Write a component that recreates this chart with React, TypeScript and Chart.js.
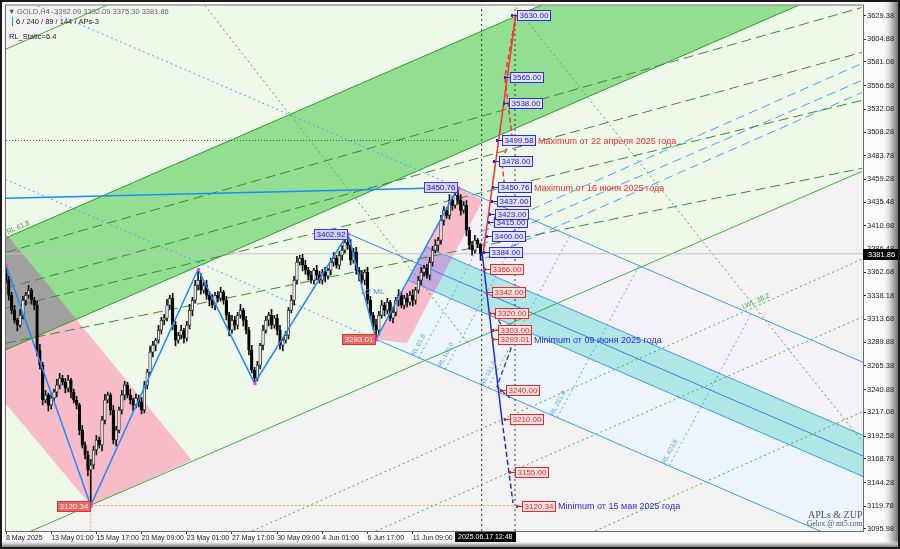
import React, { useEffect, useRef } from 'react';
import { Chart, registerables } from 'chart.js';

Chart.register(...registerables);

const FONT = '"Liberation Sans", Arial, sans-serif';

// ---------------- axes ----------------
const yTickValues = [3629.38, 3604.88, 3581.08, 3556.58, 3532.08, 3508.28, 3483.78, 3459.28, 3435.48, 3410.98, 3386.48, 3362.68, 3338.18, 3313.68, 3289.88, 3265.38, 3240.88, 3217.08, 3192.58, 3168.78, 3144.28, 3119.78, 3095.98];
const xTickBars = [0, 16, 32, 48, 64, 80, 96, 112, 128, 144];
const xTickLabels = ['8 May 2025', '13 May 01:00', '15 May 17:00', '20 May 09:00', '23 May 01:00', '27 May 17:00', '30 May 09:00', '4 Jun 01:00', '6 Jun 17:00', '11 Jun 09:00'];
const barRange = [0, 303.4];
const priceRange = [3093.9, 3639.76];

// ---------------- candles (GOLD, H4) ----------------
const firstOpen = 3362.0;
const closes = [
  3354.4, 3338.8, 3323.3, 3312.9, 3307.7, 3318.1, 3333.6, 3338.8, 3344.0, 3333.6,
  3328.5, 3281.8, 3266.2, 3229.9, 3235.1, 3224.7, 3232.0, 3238.2, 3245.4, 3252.7,
  3248.6, 3242.3, 3250.6, 3238.2, 3229.9, 3224.7, 3198.7, 3183.2, 3172.8, 3157.2,
  3162.4, 3178.0, 3188.4, 3183.2, 3209.1, 3229.9, 3235.1, 3219.5, 3188.4, 3198.7,
  3219.5, 3235.1, 3245.4, 3235.1, 3229.9, 3224.7, 3232.0, 3227.8, 3219.5, 3245.4,
  3258.9, 3279.7, 3286.9, 3292.1, 3302.5, 3312.9, 3315.0, 3328.5, 3335.7, 3307.7,
  3292.1, 3297.3, 3302.5, 3294.2, 3307.7, 3323.3, 3333.6, 3349.2, 3354.4, 3344.0,
  3349.2, 3338.8, 3333.6, 3328.5, 3338.8, 3335.7, 3341.9, 3333.6, 3318.1, 3302.5,
  3312.9, 3307.7, 3318.1, 3323.3, 3312.9, 3302.5, 3281.8, 3261.0, 3252.7, 3266.2,
  3286.9, 3302.5, 3312.9, 3318.1, 3307.7, 3315.0, 3302.5, 3286.9, 3292.1, 3297.3,
  3323.3, 3333.6, 3354.4, 3373.1, 3377.2, 3370.0, 3364.8, 3359.6, 3354.4, 3364.8,
  3359.6, 3354.4, 3362.7, 3358.6, 3364.8, 3373.1, 3377.2, 3370.0, 3380.3, 3385.5,
  3393.8, 3390.7, 3375.2, 3383.5, 3364.8, 3359.6, 3354.4, 3362.7, 3333.6, 3318.1,
  3307.7, 3302.5, 3318.1, 3328.5, 3323.3, 3331.6, 3315.0, 3321.2, 3333.6, 3338.8,
  3328.5, 3335.7, 3331.6, 3338.8, 3333.6, 3344.0, 3354.4, 3362.7, 3366.9, 3359.6,
  3373.1, 3385.5, 3390.7, 3395.9, 3416.7, 3427.0, 3421.8, 3437.4, 3432.2, 3442.6,
  3437.4, 3427.0, 3432.2, 3406.3, 3390.7, 3385.5, 3395.9, 3392.09, 3381.86,
];
const upperWicks = [
  8, 4, 3, 5, 2, 6, 4, 3, 5, 2,
  3, 4, 6, 3, 5, 2, 4, 3, 6, 5,
  3, 4, 5, 2, 3, 4, 2, 5, 3, 4,
  6, 4, 5, 3, 4, 6, 3, 2, 5, 4,
  3, 5, 4, 3, 6, 2, 4, 3, 5, 4,
  3, 6, 4, 2, 5, 3, 4, 6, 3, 5,
  4, 3, 5, 2, 4, 6, 3, 5, 11.4, 7,
  3, 5, 4, 6, 3, 4, 5, 2, 4, 3,
  5, 4, 3, 6, 2, 4, 3, 5, 3, 4,
  2, 5, 4, 3, 6, 3, 4, 5, 2, 4,
  3, 5, 4, 6, 3, 4, 5, 3, 4, 2,
  5, 4, 3, 5, 2, 4, 6, 3, 4, 5,
  5, 9.1, 6, 4, 5, 3, 4, 2, 5, 4,
  3, 6, 4, 5, 3, 4, 2, 5, 3, 6,
  4, 3, 5, 4, 6, 3, 4, 5, 3, 4,
  5, 4, 6, 3, 5, 4, 3, 6, 4, 5,
  8.2, 6, 4, 5, 3, 4, 5, 2, 0,
];
const lowerWicks = [
  3, 5, 4, 3, 6, 2, 4, 5, 3, 4,
  5, 6, 4, 5, 3, 6, 4, 3, 5, 4,
  3, 5, 4, 6, 3, 4, 5, 3, 4, 6,
  36.9, 4, 5, 3, 6, 4, 3, 5, 4, 6,
  3, 4, 5, 3, 4, 6, 3, 5, 4, 3,
  4, 3, 5, 6, 3, 4, 5, 3, 4, 5,
  6, 3, 4, 5, 3, 4, 6, 3, 5, 4,
  3, 4, 6, 3, 5, 4, 3, 4, 5, 6,
  3, 5, 4, 3, 6, 4, 5, 3, 5.2, 3,
  4, 5, 3, 6, 4, 3, 5, 4, 6, 3,
  4, 3, 5, 4, 3, 6, 4, 5, 3, 4,
  5, 3, 4, 6, 3, 5, 4, 3, 4, 5,
  3, 4, 5, 3, 4, 6, 3, 5, 4, 3,
  4, 9.5, 5, 3, 6, 4, 3, 5, 4, 6,
  3, 4, 5, 3, 6, 4, 3, 5, 4, 3,
  5, 4, 3, 6, 4, 5, 3, 4, 5, 3,
  4, 5, 3, 6, 4, 5, 3, 4, 6.56,
];

// ---------------- ZUP zigzag & pitchfork anchors ----------------
const zigzagBars = [0, 30, 68, 88, 121, 131, 160];
const zigzagPrices = [3370.0, 3120.34, 3365.8, 3247.5, 3402.92, 3293.01, 3450.76];
const pitchforkBars = [121, 131, 160];
const pitchforkPrices = [3402.92, 3293.01, 3450.76];
const cyanFraction = 0.22;
const reactionLevels = [0.618, 1.0, 1.618, 2.618, 4.236];
const reactionNames = ['RL 61.8', 'RL 100.0', 'RL 161.8', 'RL 261.8', 'RL 423.6'];

// ---------------- channel lines [bar1, price1, bar2, price2] ----------------
const outerTopLine = [0, 3594.5, 303, 3980.9];
const bandTopLine = [0, 3398.4, 303, 3784.8];
const bandBottomLine = [0, 3282.2, 303, 3668.6];
const outerBottomLine = [0, 3082.6, 303, 3467.4];
const darkDashedLines = [
  [0, 3383.4, 303, 3637.7],
  [0, 3346.1, 303, 3591.0],
  [0, 3325.3, 303, 3541.2],
  [0, 3289.0, 303, 3470.6],
];
const blueDashedLines = [
  [167.8, 3404.2, 303, 3579.6],
  [167.8, 3390.7, 303, 3561.9],
  [169.6, 3377.2, 303, 3549.4],
];
const greenDottedLines = [
  [87.1, 3093.9, 303, 3376.2],
  [131, 3093.9, 303, 3316.0],
  [208.5, 3093.9, 303, 3217.4],
];
const steepDottedLines = [
  [179.5, 3641.8, 303, 3187.3],
  [70.4, 3639.8, 164.2, 3286.9],
];
const trendLine = [0, 3439.5, 160, 3450.76];
const pinkLeftBars = [0, 65.8, 30, 0];
const pinkLeftPrices = [3402.9, 3167.6, 3120.34, 3225.7];
const pinkRightBars = [131, 160, 168.8, 141.9];
const pinkRightPrices = [3293.01, 3450.76, 3437.4, 3289.0];

const lastPrice = 3381.86;
const headerOHLC = [3392.09, 3392.09, 3375.30, 3381.86];
const maxLevel = 3499.58;
const maxLevelBars = [0, 160];
const minLevel = 3120.34;
const minLevelBars = [30, 182];
const separatorBars = [168.4, 180.2];
const timeLabelBar = 158.9;
const timeLabel = '2025.06.17 12:48';

// ---------------- projections ----------------
const upLevels = [3384.0, 3400.0, 3415.0, 3423.0, 3437.0, 3450.76, 3478.0, 3499.58, 3538.0, 3565.0, 3630.0];
const upLabelBars = [171.0, 172.0, 172.7, 173.1, 173.8, 174.2, 174.5, 175.6, 178.1, 178.4, 180.9];
const downLevels = [3366.0, 3342.0, 3320.0, 3303.0, 3293.01, 3240.0, 3210.0, 3155.0, 3120.34];
const downLabelBars = [171.3, 172.0, 173.1, 174.2, 174.2, 177.0, 178.4, 180.2, 182.7];
const redSolidPath = [[169, 3384], [180.5, 3630]];
const redDashedPath = [[180.5, 3630], [176.6, 3565], [179.1, 3505], [175.5, 3478], [177.0, 3440]];
const blueSolidPath = [[168.5, 3384], [175.6, 3209]];
const blueDashedPath = [[175.6, 3209], [179.5, 3123]];
const blueDashedPath2 = [[172.8, 3320], [179.5, 3289], [173.8, 3244], [178.4, 3232]];
const upNotes = [
  { level: 3499.58, text: 'Maximum от 22 апреля 2025 года' },
  { level: 3450.76, text: 'Maximum от 16 июня 2025 года' },
];
const downNotes = [
  { level: 3293.01, text: 'Minimum от 09 июня 2025 года' },
  { level: 3120.34, text: 'Minimum от 15 мая 2025 года' },
];

// ---------------- derived geometry ----------------
const opens = closes.map((c, i) => (i === 0 ? firstOpen : closes[i - 1]));
const highs = closes.map((c, i) => Math.max(opens[i], c) + upperWicks[i]);
const lows = closes.map((c, i) => Math.min(opens[i], c) - lowerWicks[i]);

const ext = (l: number[], i: number) => l[1] + ((l[3] - l[1]) / (l[2] - l[0])) * (i - l[0]);
const bandPoly = (a: number[], b: number[]) => [[-10, ext(a, -10)], [320, ext(a, 320)], [320, ext(b, 320)], [-10, ext(b, -10)]];

const [Ai, Bi, Ci] = pitchforkBars;
const [Ap, Bp, Cp] = pitchforkPrices;
const Mi = (Bi + Ci) / 2;
const Mp = (Bp + Cp) / 2;
const pfSlope = (Mp - Ap) / (Mi - Ai);
const bcSlope = (Cp - Bp) / (Ci - Bi);
const pfAt = (i0: number, p0: number, i: number) => p0 + pfSlope * (i - i0);
const cross = (i0: number, p0: number, s0: number, i1: number, p1: number, s1: number) => {
  const i = (p1 - p0 + s0 * i0 - s1 * i1) / (s0 - s1);
  return [i, p0 + s0 * (i - i0)];
};
const halfWidth = cyanFraction * (Cp - pfAt(Ai, Ap, Ci));
const cyanTopStart = cross(Ai, Ap + halfWidth, pfSlope, Bi, Bp, bcSlope);
const cyanBotStart = cross(Ai, Ap - halfWidth, pfSlope, Bi, Bp, bcSlope);
const RIGHT = 320;
const cyanZone = [cyanTopStart, [RIGHT, pfAt(Ai, Ap + halfWidth, RIGHT)], [RIGHT, pfAt(Ai, Ap - halfWidth, RIGHT)], cyanBotStart];
const forkUpperZone = [[Ci, Cp], [RIGHT, pfAt(Ci, Cp, RIGHT)], [RIGHT, pfAt(Ai, Ap, RIGHT)], [Mi, Mp]];
const forkLowerZone = [[Mi, Mp], [RIGHT, pfAt(Ai, Ap, RIGHT)], [RIGHT, pfAt(Bi, Bp, RIGHT)], [Bi, Bp]];
const reactionLines = reactionLevels.map((k) => {
  const Pi = Mi + k * (Mi - Ai);
  const Pp = Mp + k * (Mp - Ap);
  const lo = cross(Pi, Pp, bcSlope, Bi, Bp, pfSlope);
  const hi = cross(Pi, Pp, bcSlope, Ci, Cp, pfSlope);
  return [lo, hi];
});
const pinkLeft = pinkLeftBars.map((b, k) => [b, pinkLeftPrices[k]]);
const pinkRight = pinkRightBars.map((b, k) => [b, pinkRightPrices[k]]);

const lineDS = (pts: number[][], color: string, width: number, dash: number[], order: number) => ({
  type: 'line',
  data: pts.map(([x, y]) => ({ x, y })),
  borderColor: color,
  borderWidth: width,
  borderDash: dash,
  pointRadius: 0,
  pointHoverRadius: 0,
  pointHitRadius: 0,
  fill: false,
  tension: 0,
  order,
});
const seg = (l: number[]) => [[l[0], l[1]], [l[2], l[3]]];

function buildDatasets(): any[] {
  const ds: any[] = [];
  ds.push(lineDS(seg(outerTopLine), '#43ad43', 1, [], 45));
  ds.push(lineDS(seg(outerBottomLine), '#43ad43', 1, [], 45));
  ds.push(lineDS(seg(bandTopLine), '#2f9a2f', 1, [], 45));
  ds.push(lineDS(seg(bandBottomLine), '#2f9a2f', 1, [], 45));
  darkDashedLines.forEach((l) => ds.push(lineDS(seg(l), '#3c8a3c', 1, [10, 5], 44)));
  greenDottedLines.forEach((l) => ds.push(lineDS(seg(l), '#4fae4f', 1, [2, 3], 44)));
  steepDottedLines.forEach((l) => ds.push(lineDS(seg(l), '#4fae4f', 1, [2, 3], 44)));
  blueDashedLines.forEach((l) => ds.push(lineDS(seg(l), '#4aa3f5', 1, [9, 5], 44)));
  ds.push(lineDS([[-10, pfAt(Ci, Cp, -10)], [Ci, Cp]], '#4aa3f5', 1, [2, 3], 43));
  ds.push(lineDS([[-10, pfAt(Bi, Bp, -10)], [Bi, Bp]], '#4aa3f5', 1, [2, 3], 43));
  ds.push(lineDS([[Ci, Cp], [RIGHT, pfAt(Ci, Cp, RIGHT)]], '#3d9bf0', 1, [], 42));
  ds.push(lineDS([[Bi, Bp], [RIGHT, pfAt(Bi, Bp, RIGHT)]], '#3d9bf0', 1, [], 42));
  ds.push(lineDS([[Ai, Ap], [RIGHT, pfAt(Ai, Ap, RIGHT)]], '#3d7fe0', 1, [], 42));
  ds.push(lineDS([cyanTopStart, cyanZone[1]], '#3d9bf0', 1, [], 42));
  ds.push(lineDS([cyanBotStart, cyanZone[2]], '#3d9bf0', 1, [], 42));
  reactionLines.forEach((r) => ds.push(lineDS(r, '#5aa8f0', 1, [2, 3], 43)));
  ds.push(lineDS([[barRange[0], lastPrice], [barRange[1], lastPrice]], '#c4c4c4', 1, [], 41));
  ds.push(lineDS([[maxLevelBars[0], maxLevel], [maxLevelBars[1], maxLevel]], '#555555', 1, [1, 2], 41));
  ds.push(lineDS([[minLevelBars[0], minLevel], [minLevelBars[1], minLevel]], '#f2a33a', 1, [2, 2], 41));
  ds.push(lineDS([[minLevelBars[0], minLevel], [minLevelBars[0], priceRange[0]]], '#f2a33a', 1, [2, 2], 41));
  separatorBars.forEach((b) => ds.push(lineDS([[b, priceRange[0]], [b, priceRange[1]]], '#3a3a3a', 1, [2, 3], 41)));
  ds.push({
    type: 'bar',
    data: closes.map((c, i) => ({ x: i, y: [lows[i], highs[i]] })),
    backgroundColor: '#111111',
    barThickness: 1,
    grouped: false,
    order: 21,
  });
  ds.push({
    type: 'bar',
    data: closes.map((c, i) => ({ x: i, y: [opens[i], c] })),
    backgroundColor: closes.map((c, i) => (c >= opens[i] ? '#eeeeee' : '#000000')),
    borderColor: closes.map((c, i) => (c >= opens[i] ? '#1e1e1e' : '#000000')),
    borderWidth: 0.8,
    borderSkipped: false,
    barThickness: 2.7,
    grouped: false,
    order: 20,
  });
  ds.push(lineDS(seg(trendLine), '#1e88ff', 1.5, [], 11));
  ds.push(lineDS(zigzagBars.map((b, k) => [b, zigzagPrices[k]]), '#1e88ff', 1.5, [], 10));
  ds.push(lineDS(redSolidPath, '#ff2d2d', 1.5, [], 9));
  ds.push(lineDS(redDashedPath, '#ff2d2d', 1.5, [5, 3], 9));
  ds.push(lineDS(blueSolidPath, '#2626e0', 1.5, [], 9));
  ds.push(lineDS(blueDashedPath, '#2626e0', 1.5, [5, 3], 9));
  ds.push(lineDS(blueDashedPath2, '#2626e0', 1.2, [5, 3], 9));
  return ds;
}

// ---------------- plugins ----------------
const framePlugin = {
  id: 'frame',
  beforeDraw(chart: any) {
    const { ctx, width, height } = chart;
    ctx.save();
    ctx.fillStyle = '#fbfbfb';
    ctx.fillRect(0, 0, width, height);
    const gr = ctx.createLinearGradient(882, 0, 899, 0);
    gr.addColorStop(0, 'rgba(251,251,251,0)');
    gr.addColorStop(0.6, '#b8b8b8');
    gr.addColorStop(1, '#6a6a6a');
    ctx.fillStyle = gr;
    ctx.fillRect(882, 0, 18, height);
    const gb = ctx.createLinearGradient(0, 540, 0, 548);
    gb.addColorStop(0, 'rgba(251,251,251,0)');
    gb.addColorStop(0.6, '#b0b0b0');
    gb.addColorStop(1, '#666666');
    ctx.fillStyle = gb;
    ctx.fillRect(0, 540, width, 9);
    ctx.restore();
  },
  afterDraw(chart: any) {
    const { ctx, chartArea: a, scales, width, height } = chart;
    const X = (v: number) => scales.x.getPixelForValue(v);
    const Y = (v: number) => scales.y.getPixelForValue(v);
    ctx.save();
    ctx.strokeStyle = '#6d6d6d';
    ctx.lineWidth = 1;
    ctx.strokeRect(a.left - 0.5, a.top - 0.5, a.right - a.left + 1, a.bottom - a.top + 1);
    ctx.strokeStyle = '#1a1a1a';
    ctx.lineWidth = 2;
    ctx.strokeRect(1, 1, width - 2, height - 2);
    const yp = Math.round(Y(lastPrice));
    ctx.fillStyle = '#000';
    ctx.fillRect(a.right, yp - 5, 35, 11);
    ctx.fillStyle = '#fff';
    ctx.font = `7.5px ${FONT}`;
    ctx.textBaseline = 'middle';
    ctx.textAlign = 'left';
    ctx.fillText(lastPrice.toFixed(2), a.right + 5, yp + 0.5);
    const xt = Math.round(X(timeLabelBar));
    ctx.font = `7px ${FONT}`;
    const tw = Math.ceil(ctx.measureText(timeLabel).width) + 6;
    ctx.fillStyle = '#000';
    ctx.fillRect(xt, a.bottom + 1, tw, 10);
    ctx.fillStyle = '#fff';
    ctx.fillText(timeLabel, xt + 3, a.bottom + 6.5);
    ctx.font = `7.5px ${FONT}`;
    ctx.fillStyle = '#555';
    ctx.fillText('▼', 8, 12);
    ctx.fillStyle = '#666';
    ctx.fillText('GOLD,H4  ' + headerOHLC.map((v) => v.toFixed(2)).join(' '), 17, 12);
    ctx.fillStyle = '#1e88ff';
    ctx.fillRect(12, 17, 1, 9);
    ctx.fillStyle = '#222';
    ctx.fillText('6 / 240 / 89 / 144 / APs-3', 16, 22);
    ctx.fillText('RL_Static=6.4', 9, 37);
    ctx.fillStyle = '#555';
    ctx.font = '10px "Liberation Serif", "DejaVu Serif", serif';
    ctx.fillText('APLs & ZUP', 808, 515);
    ctx.font = '7.5px "Liberation Serif", "DejaVu Serif", serif';
    ctx.fillText('Gelox @ mt5.com', 807, 524);
    ctx.restore();
  },
};

const zonesPlugin = {
  id: 'zones',
  beforeDatasetsDraw(chart: any) {
    const { ctx, chartArea: a, scales } = chart;
    const X = (v: number) => scales.x.getPixelForValue(v);
    const Y = (v: number) => scales.y.getPixelForValue(v);
    const path = (pts: number[][]) => {
      ctx.beginPath();
      pts.forEach(([i, p], k) => (k ? ctx.lineTo(X(i), Y(p)) : ctx.moveTo(X(i), Y(p))));
      ctx.closePath();
    };
    const fill = (pts: number[][], c: string) => {
      path(pts);
      ctx.fillStyle = c;
      ctx.fill();
    };
    ctx.save();
    ctx.beginPath();
    ctx.rect(a.left, a.top, a.right - a.left, a.bottom - a.top);
    ctx.clip();
    ctx.fillStyle = '#f2f2f2';
    ctx.fillRect(a.left, a.top, a.right - a.left, a.bottom - a.top);
    fill(bandPoly(outerTopLine, outerBottomLine), '#eff9ea');
    fill(bandPoly(bandTopLine, bandBottomLine), '#92df92');
    fill(forkUpperZone, '#f4f1f9');
    fill(forkLowerZone, '#ecf4fc');
    fill(cyanZone, '#afe6e6');
    fill(pinkLeft, '#f7bcc7');
    fill(pinkRight, '#f7bcc7');
    ctx.save();
    path(bandPoly(bandTopLine, bandBottomLine));
    ctx.clip();
    fill(pinkLeft, '#a0a0a0');
    ctx.restore();
    ctx.save();
    path(cyanZone);
    ctx.clip();
    fill(pinkRight, '#c4a7de');
    ctx.restore();
    ctx.restore();
  },
};

function drawBox(ctx: any, text: string, x: number, y: number, align: string, fill: string, stroke: string, color: string) {
  ctx.font = `8px ${FONT}`;
  const w = Math.round(ctx.measureText(text).width + 4);
  const h = 10;
  const bx = Math.round(align === 'left' ? x : x - w);
  const by = Math.round(y - h / 2);
  ctx.fillStyle = fill;
  ctx.fillRect(bx, by, w, h);
  ctx.strokeStyle = stroke;
  ctx.lineWidth = 1;
  ctx.strokeRect(bx + 0.5, by + 0.5, w, h);
  ctx.fillStyle = color;
  ctx.textAlign = 'left';
  ctx.textBaseline = 'middle';
  ctx.fillText(text, bx + 2.5, by + h / 2 + 1);
  return bx + w;
}

function rotatedText(ctx: any, text: string, x: number, y: number, angle: number, color: string, size: number) {
  ctx.save();
  ctx.translate(x, y);
  ctx.rotate(angle);
  ctx.fillStyle = color;
  ctx.font = `${size}px ${FONT}`;
  ctx.textAlign = 'left';
  ctx.textBaseline = 'alphabetic';
  ctx.fillText(text, 0, 0);
  ctx.restore();
}

const labelsPlugin = {
  id: 'labels',
  afterDatasetsDraw(chart: any) {
    const { ctx, chartArea: a, scales } = chart;
    const X = (v: number) => scales.x.getPixelForValue(v);
    const Y = (v: number) => scales.y.getPixelForValue(v);
    ctx.save();
    ctx.beginPath();
    ctx.rect(a.left, a.top, a.right - a.left, a.bottom - a.top);
    ctx.clip();

    const angOf = (l: number[]) => Math.atan2(Y(l[3]) - Y(l[1]), X(l[2]) - X(l[0]));
    rotatedText(ctx, 'RL 61.8', X(0.6), Y(ext(bandTopLine, 0.6)) - 3, angOf(bandTopLine), '#3f9f3f', 7);
    const g = greenDottedLines[0];
    rotatedText(ctx, 'LWL 38.2', X(261), Y(ext(g, 261)) - 3, angOf(g), '#4fae4f', 7);
    reactionLines.forEach((r, k) => {
      const ang = Math.atan2(Y(r[1][1]) - Y(r[0][1]), X(r[1][0]) - X(r[0][0]));
      rotatedText(ctx, reactionNames[k], X(r[0][0]) - 4, Y(r[0][1]) - 2, ang, '#5aa8f0', 6.5);
    });
    ctx.fillStyle = '#4a90e2';
    ctx.font = `8px ${FONT}`;
    ctx.textBaseline = 'middle';
    ctx.fillText('1/2 ML', X(125.3), Y(3342));

    ctx.fillStyle = '#ff33ff';
    zigzagBars.forEach((b, k) => ctx.fillRect(X(b) - 1, Y(zigzagPrices[k]) - 1, 3, 3));

    zigzagBars.forEach((b, k) => {
      if (k === 0 || k === 2 || k === 3) return;
      const p = zigzagPrices[k];
      const high = k === 4 || k === 6;
      drawBox(ctx, p.toFixed(2), X(b) - 1, Y(p), 'right', high ? '#d2d2fa' : '#f06464', high ? '#3c3cff' : '#e03030', high ? '#1a1aa0' : '#ffffff');
    });

    const noteFont = `9px ${FONT}`;
    upLevels.forEach((lv, k) => {
      const x = X(upLabelBars[k]);
      const y = Y(lv);
      ctx.strokeStyle = '#2626e0';
      ctx.lineWidth = 1;
      ctx.beginPath();
      ctx.moveTo(x - 5, Math.round(y) + 0.5);
      ctx.lineTo(x, Math.round(y) + 0.5);
      ctx.stroke();
      ctx.fillStyle = '#2626e0';
      ctx.fillRect(x - 6, Math.round(y) - 1, 2, 3);
      const end = drawBox(ctx, lv.toFixed(2), x, y, 'left', '#e4e4ff', '#2a2aff', '#2020d8');
      const note = upNotes.find((n) => n.level === lv);
      if (note) {
        ctx.font = noteFont;
        ctx.fillStyle = '#ff2a2a';
        ctx.fillText(note.text, end + 3, y + 1);
      }
    });
    downLevels.forEach((lv, k) => {
      const x = X(downLabelBars[k]);
      const y = Y(lv);
      ctx.strokeStyle = '#e02020';
      ctx.lineWidth = 1;
      ctx.beginPath();
      ctx.moveTo(x - 5, Math.round(y) + 0.5);
      ctx.lineTo(x, Math.round(y) + 0.5);
      ctx.stroke();
      ctx.fillStyle = '#e02020';
      ctx.fillRect(x - 6, Math.round(y) - 1, 2, 3);
      const end = drawBox(ctx, lv.toFixed(2), x, y, 'left', '#ffe6e6', '#ff2020', '#ff1a1a');
      const note = downNotes.find((n) => n.level === lv);
      if (note) {
        ctx.font = noteFont;
        ctx.fillStyle = '#2a2aff';
        ctx.fillText(note.text, end + 3, y + 1);
      }
    });
    ctx.restore();
  },
};

export default function App() {
  const ref = useRef<HTMLCanvasElement | null>(null);
  useEffect(() => {
    document.body.style.margin = '0';
    const canvas = ref.current;
    if (!canvas) return;
    const chart = new Chart(canvas, {
      type: 'bar',
      data: { datasets: buildDatasets() as any },
      options: {
        responsive: false,
        animation: false,
        devicePixelRatio: 1,
        events: [],
        layout: { padding: { left: 6, top: 5, right: 0, bottom: 0 } },
        plugins: { legend: { display: false }, tooltip: { enabled: false } },
        scales: {
          x: {
            type: 'linear',
            min: barRange[0],
            max: barRange[1],
            offset: false,
            afterFit: (s: any) => { s.height = 18; },
            afterBuildTicks: (s: any) => { s.ticks = xTickBars.map((v) => ({ value: v })); },
            grid: { display: true, drawOnChartArea: false, drawTicks: true, tickLength: 3, color: '#333', offset: false },
            border: { display: false },
            ticks: {
              autoSkip: false,
              maxRotation: 0,
              minRotation: 0,
              align: 'start',
              padding: 0,
              color: '#222',
              font: { family: 'Liberation Sans', size: 7 },
              callback: (_v: any, idx: number) => xTickLabels[idx],
            },
          },
          y: {
            type: 'linear',
            position: 'right',
            min: priceRange[0],
            max: priceRange[1],
            afterFit: (s: any) => { s.width = 37; },
            afterBuildTicks: (s: any) => { s.ticks = yTickValues.map((v) => ({ value: v })); },
            grid: { display: true, drawOnChartArea: false, drawTicks: true, tickLength: 3, color: '#333' },
            border: { display: false },
            ticks: {
              autoSkip: false,
              crossAlign: 'near',
              padding: 1,
              color: '#222',
              font: { family: 'Liberation Sans', size: 7.5 },
              callback: (v: any) => Number(v).toFixed(2),
            },
          },
        },
      } as any,
      plugins: [framePlugin, zonesPlugin, labelsPlugin],
    });
    return () => chart.destroy();
  }, []);
  return (
    <div style={{ width: 900, height: 549, position: 'relative' }}>
      <canvas ref={ref} width={900} height={549} style={{ display: 'block', width: 900, height: 549 }} />
    </div>
  );
}
